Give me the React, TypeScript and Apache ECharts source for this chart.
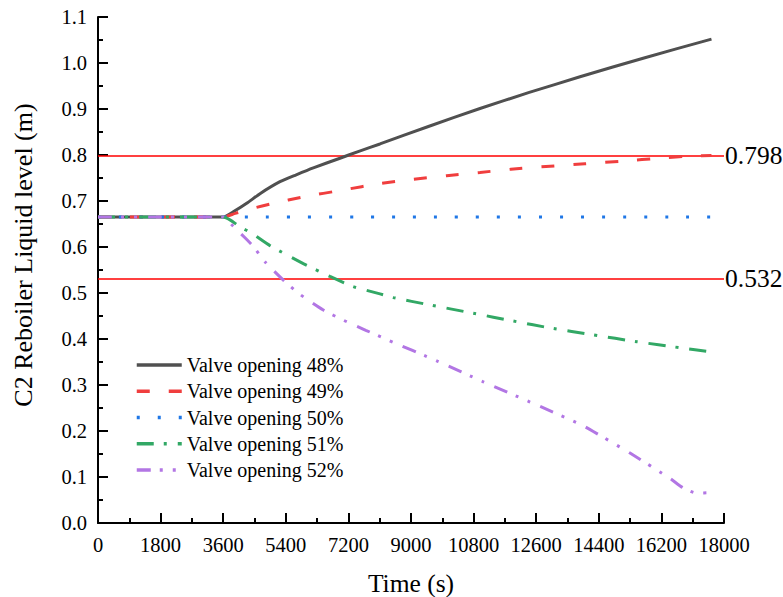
import React, { useEffect, useRef } from "react";
import * as echarts from "echarts";

const FONT = "Liberation Serif";

const xTicks = [0, 1800, 3600, 5400, 7200, 9000, 10800, 12600, 14400, 16200, 18000];
const yTickLabels = ["0.0", "0.1", "0.2", "0.3", "0.4", "0.5", "0.6", "0.7", "0.8", "0.9", "1.0", "1.1"];
const limitLevels = [0.798, 0.532];
const limitLabels = ["0.798", "0.532"];

const names = [
  "Valve opening 48%",
  "Valve opening 49%",
  "Valve opening 50%",
  "Valve opening 51%",
  "Valve opening 52%",
];

const t48 = [0, 1800, 3600, 3900, 4275, 4658, 5233, 5700, 6191, 6958, 7500, 8108, 9500, 10984, 12400, 13860, 15700, 17640];
const v48 = [0.665, 0.665, 0.665, 0.677, 0.695, 0.716, 0.742, 0.757, 0.772, 0.793, 0.808, 0.824, 0.862, 0.901, 0.936, 0.97, 1.011, 1.052];

const t49 = [0, 1800, 3600, 3945, 4400, 5041, 5903, 7053, 8108, 9066, 10025, 10984, 11870, 12880, 14000, 15150, 16130, 17100, 17640];
const v49 = [0.665, 0.665, 0.665, 0.673, 0.683, 0.695, 0.709, 0.724, 0.738, 0.747, 0.755, 0.762, 0.769, 0.775, 0.781, 0.787, 0.793, 0.798, 0.799];

const t50 = [0, 3600, 9000, 17640];
const v50 = [0.665, 0.665, 0.665, 0.665];

const t51 = [0, 1800, 3600, 3795, 4082, 4418, 4945, 5903, 6670, 7341, 8108, 8491, 9546, 10792, 11942, 13000, 14242, 15500, 16735, 17640];
const v51 = [0.665, 0.665, 0.665, 0.659, 0.644, 0.63, 0.603, 0.564, 0.536, 0.514, 0.498, 0.49, 0.474, 0.456, 0.439, 0.424, 0.409, 0.394, 0.381, 0.372];

const t52 = [0, 1800, 3600, 3700, 4227, 4467, 4800, 5328, 5808, 6478, 7053, 7700, 8300, 9785, 11079, 12421, 13860, 14242, 15297, 16447, 16830, 17215, 17640];
const v52 = [0.665, 0.665, 0.665, 0.659, 0.62, 0.601, 0.568, 0.528, 0.497, 0.463, 0.441, 0.419, 0.399, 0.351, 0.307, 0.263, 0.215, 0.199, 0.152, 0.097, 0.076, 0.065, 0.066];

const colors = ["#505050", "#f03e3e", "#1f77e6", "#32a865", "#b276e4"];
const dashes: any[] = ["solid", [13, 19], [3, 18], [17, 10, 3, 11], [14, 9, 3, 10, 3, 11]];

const seriesTimes = [t48, t49, t50, t51, t52];
const seriesVals = [v48, v49, v50, v51, v52];

export default function App() {
  const ref = useRef<HTMLDivElement>(null);
  useEffect(() => {
    if (!ref.current) return;
    const chart = echarts.init(ref.current, undefined, { renderer: "svg" });
    const series: any[] = names.map((name, i) => ({
      name,
      type: "line",
      symbol: "none",
      showSymbol: false,
      smooth: 0.2,
      data: seriesTimes[i].map((t, j) => [t, seriesVals[i][j]]),
      lineStyle: { color: colors[i], width: 3, type: dashes[i] },
      itemStyle: { color: colors[i] },
      z: 3 + i,
    }));
    series[0].markLine = {
      silent: true,
      symbol: ["none", "none"],
      precision: 3,
      lineStyle: { color: "#ff0000", width: 1.5, type: "solid" },
      label: {
        position: "end",
        distance: 1,
        formatter: (p: any) => limitLabels[p.dataIndex] ?? String(p.value),
        fontFamily: FONT,
        fontSize: 25.5,
        color: "#000",
      },
      data: limitLevels.map((v) => ({ yAxis: v })),
      z: 2,
    };
    chart.setOption({
      animation: false,
      backgroundColor: "#fff",
      textStyle: { fontFamily: FONT },
      grid: { left: 98, right: 59, top: 17, bottom: 74, containLabel: false },
      legend: {
        orient: "vertical",
        left: 130,
        top: 350,
        itemWidth: 45,
        itemHeight: 14,
        itemGap: 6.25,
        data: names,
        itemStyle: { opacity: 0 },
        lineStyle: { width: 3.5 },
        textStyle: { fontFamily: FONT, fontSize: 20, color: "#000" },
      },
      xAxis: {
        type: "value",
        min: 0,
        max: 18000,
        interval: 1800,
        axisLine: { show: true, onZero: false, lineStyle: { color: "#000", width: 2 } },
        axisTick: { show: true, inside: true, length: 10, lineStyle: { color: "#000", width: 2 } },
        minorTick: { show: true, splitNumber: 2, length: 5, lineStyle: { color: "#000", width: 2 } },
        splitLine: { show: false },
        axisLabel: {
          margin: 11,
          fontFamily: FONT,
          fontSize: 20.5,
          color: "#000",
          formatter: (v: number) => (xTicks.includes(v) ? String(v) : ""),
        },
      },
      yAxis: {
        type: "value",
        min: 0,
        max: 1.1,
        interval: 0.1,
        axisLine: { show: true, onZero: false, lineStyle: { color: "#000", width: 2 } },
        axisTick: { show: true, inside: true, length: 10, lineStyle: { color: "#000", width: 2 } },
        minorTick: { show: true, splitNumber: 2, length: 5, lineStyle: { color: "#000", width: 2 } },
        splitLine: { show: false },
        axisLabel: {
          margin: 11,
          fontFamily: FONT,
          fontSize: 20.5,
          color: "#000",
          formatter: (v: number) => yTickLabels[Math.round(v * 10)] ?? "",
        },
      },
      graphic: [
        {
          type: "text",
          x: 411,
          y: 583,
          style: {
            text: "Time (s)",
            fontFamily: FONT,
            fontSize: 25.5,
            fill: "#000",
            textAlign: "center",
            textVerticalAlign: "middle",
          },
        },
        {
          type: "text",
          x: 23,
          y: 255,
          rotation: Math.PI / 2,
          style: {
            text: "C2 Reboiler Liquid level (m)",
            fontFamily: FONT,
            fontSize: 26,
            fill: "#000",
            textAlign: "center",
            textVerticalAlign: "middle",
          },
        },
      ],
      series,
    });
    return () => chart.dispose();
  }, []);
  return <div ref={ref} style={{ width: 783, height: 597, position: "absolute", left: 0, top: 0 }} />;
}
